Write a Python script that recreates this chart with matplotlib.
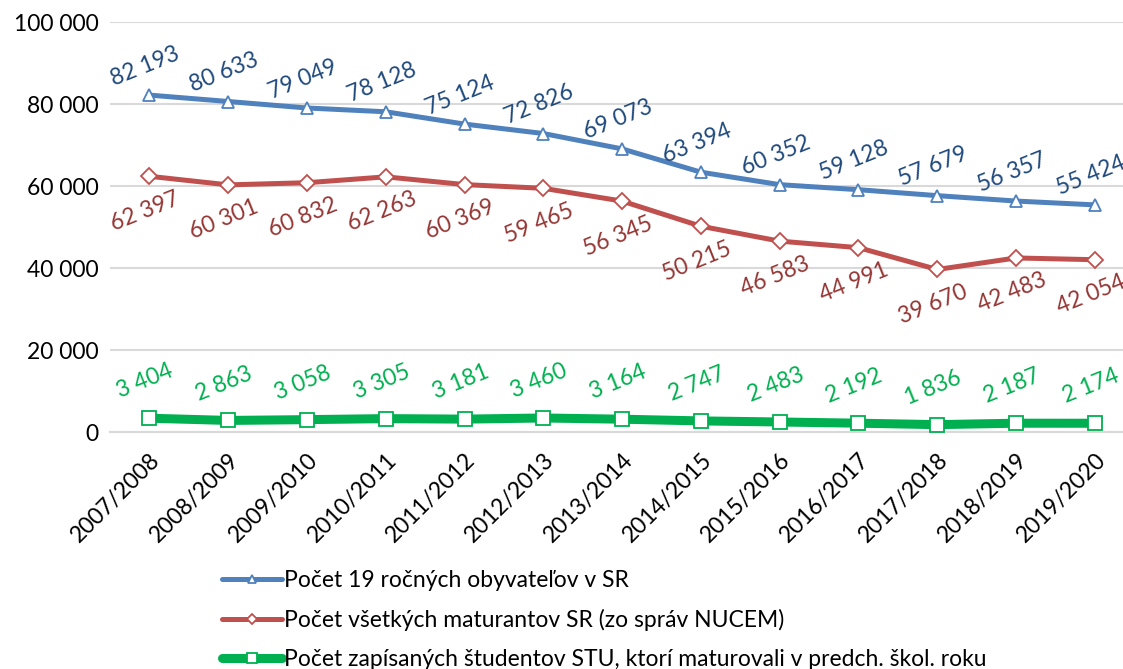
import numpy as np
import matplotlib
matplotlib.use("Agg")
import matplotlib.pyplot as plt

plt.rcParams["font.family"] = ["Lato", "DejaVu Sans"]

# ─── data ─────────────────────────────────────────────────────────────────────
years = ["2007/2008", "2008/2009", "2009/2010", "2010/2011", "2011/2012",
         "2012/2013", "2013/2014", "2014/2015", "2015/2016", "2016/2017",
         "2017/2018", "2018/2019", "2019/2020"]
pop19 = [82193, 80633, 79049, 78128, 75124, 72826, 69073, 63394, 60352,
         59128, 57679, 56357, 55424]
matur = [62397, 60301, 60832, 62263, 60369, 59465, 56345, 50215, 46583,
         44991, 39670, 42483, 42054]
stu = [3404, 2863, 3058, 3305, 3181, 3460, 3164, 2747, 2483, 2192, 1836,
       2187, 2174]

names = ["Počet 19 ročných obyvateľov v SR",
         "Počet všetkých maturantov SR (zo správ NUCEM)",
         "Počet zapísaných študentov STU, ktorí maturovali v predch. škol. roku"]


def fmt(v):
    return f"{v:,}".replace(",", " ")


fig = plt.figure(figsize=(11.23, 6.69), dpi=100)
ax = fig.add_axes([0.098, 0.354, 0.912, 0.613])

x = np.arange(len(years))
series = [
    (pop19, "#4F81BD", "#1F497D", "^", 9, 3.6, 29),
    (matur, "#C0504D", "#943634", "D", 8, 3.6, -35),
    (stu, "#00B050", "#00B050", "s", 10, 6.5, 37),
]
for (vals, col, lcol, mk, ms, lw, off), name in zip(series, names):
    ax.plot(x, vals, color=col, lw=lw, marker=mk, ms=ms, mfc="white",
            mec=col, mew=1.3, label=name, solid_capstyle="round", zorder=3)
    for xi, v in zip(x, vals):
        ax.annotate(fmt(v), (xi, v), xytext=(-3, off * 0.72),
                    textcoords="offset points", ha="center", va="center",
                    rotation=22, fontsize=16.5, color=lcol)

ax.set_xlim(-0.5, len(years) - 0.5)
ax.set_ylim(0, 100000)
ax.set_yticks(np.arange(0, 100001, 20000))
ax.set_yticklabels([fmt(v) for v in range(0, 100001, 20000)], fontsize=16.5)
ax.set_xticks(x)
ax.set_xticklabels(years, rotation=45, ha="right", rotation_mode="anchor",
                   fontsize=16.5)
ax.tick_params(length=0, pad=8)
ax.tick_params(axis="x", pad=12)
ax.grid(axis="y", color="#D9D9D9", lw=1.5)
ax.set_axisbelow(True)
for s in ["top", "right", "left"]:
    ax.spines[s].set_visible(False)
ax.spines["bottom"].set_color("#D9D9D9")
ax.spines["bottom"].set_linewidth(1.5)

fig.legend(loc="upper left", bbox_to_anchor=(0.198, 0.148), frameon=False,
           fontsize=16.5, handlelength=2.6, handletextpad=0.1, markerscale=0.7,
           labelspacing=0.78, borderpad=0, borderaxespad=0)

plt.savefig("out.png", dpi=100)
